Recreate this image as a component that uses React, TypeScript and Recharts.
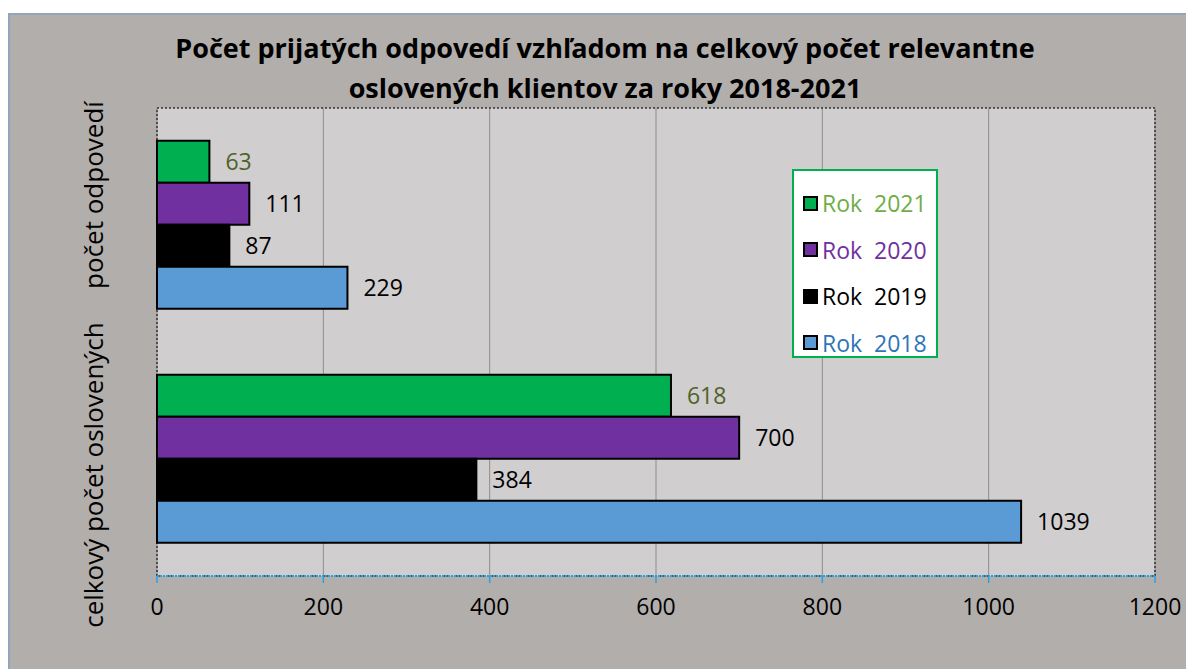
import React from 'react'
import {
  BarChart, Bar, XAxis, YAxis, CartesianGrid, Legend, LabelList, ReferenceArea,
} from 'recharts'

// ----- data -----
const categories = ['počet odpovedí', 'celkový počet oslovených']
const rok2021 = [63, 618]
const rok2020 = [111, 700]
const rok2019 = [87, 384]
const rok2018 = [229, 1039]
const xTicks = [0, 200, 400, 600, 800, 1000, 1200]

const series = [
  { key: 'r2021', name: 'Rok  2021', fill: '#00b050', text: '#70ad47', label: '#4f6228' },
  { key: 'r2020', name: 'Rok  2020', fill: '#7030a0', text: '#7030a0', label: '#000000' },
  { key: 'r2019', name: 'Rok  2019', fill: '#000000', text: '#000000', label: '#000000' },
  { key: 'r2018', name: 'Rok  2018', fill: '#5b9bd5', text: '#2e75b6', label: '#000000' },
]

const data = categories.map((name, i) => ({
  name,
  r2021: rok2021[i],
  r2020: rok2020[i],
  r2019: rok2019[i],
  r2018: rok2018[i],
}))

const FONT = '"Open Sans", Lato, sans-serif'

// category labels are rotated and nudged a bit like in Excel
const CategoryTick = (props: any) => {
  const { x, y, payload, index } = props
  const shift = index === 0 ? -30 : 16
  return (
    <text
      x={x - 56}
      y={y + shift}
      transform={`rotate(-90 ${x - 56} ${y + shift})`}
      textAnchor="middle"
      dominantBaseline="central"
      fontFamily={FONT}
      fontSize={26}
      fill="#000"
    >
      {payload.value}
    </text>
  )
}

const LegendBox = (props: any) => {
  const payload = props.payload || []
  // keep the order of the series (2021 on top)
  const items = series.filter(s => payload.some((p: any) => p.value === s.name))
  return (
    <div style={{
      width: 146, height: 189, boxSizing: 'border-box', background: '#fff',
      border: '2px solid #00b050', paddingTop: 9, fontFamily: FONT,
    }}>
      {items.map(s => (
        <div key={s.key} style={{ display: 'flex', alignItems: 'center', height: 46.5, paddingLeft: 9 }}>
          <span style={{
            display: 'inline-block', width: 11, height: 11, background: s.fill,
            border: '2px solid #000', marginRight: 4, flexShrink: 0,
          }} />
          <span style={{ fontSize: 23, color: s.text, whiteSpace: 'pre' }}>{s.name}</span>
        </div>
      ))}
    </div>
  )
}

export default function App() {
  return (
    <div style={{
      position: 'absolute', left: 8, top: 13, width: 1178, height: 656,
      boxSizing: 'border-box', background: '#b2aeac',
      borderTop: '2px solid #93a5bd', borderLeft: '2px solid #93a5bd',
    }}>
      <div style={{
        position: 'absolute', left: 95, top: 13, width: 1000, textAlign: 'center',
        fontFamily: FONT, fontWeight: 'bold', fontSize: 27, lineHeight: '40px', color: '#000',
      }}>
        Počet prijatých odpovedí vzhľadom na celkový počet relevantne<br />
        oslovených klientov za roky 2018-2021
      </div>
      <div style={{ position: 'absolute', left: -2, top: -2 }}>
        <BarChart
          width={1178}
          height={656}
          data={data}
          layout="vertical"
          barCategoryGap="14%"
          barGap={0}
          margin={{ top: 95, right: 31, bottom: 33, left: 0 }}
        >
          <CartesianGrid horizontal={false} stroke="#8c8c8c" fill="#d0cecf" fillOpacity={1} />
          <ReferenceArea x1={0} x2={1200} fill="none" stroke="#333" strokeDasharray="2 2" strokeWidth={1.5} />
          <XAxis
            type="number"
            domain={[0, 1200]}
            ticks={xTicks}
            interval={0}
            height={60}
            axisLine={{ stroke: '#29a3e0', strokeDasharray: '2 1', strokeWidth: 2 }}
            tickLine={{ stroke: '#29a3e0', strokeWidth: 1.5 }}
            tickSize={7}
            tickMargin={16}
            tick={{ fill: '#000', fontSize: 23, fontFamily: FONT }}
          />
          <YAxis
            type="category"
            dataKey="name"
            width={149}
            axisLine={false}
            tickLine={false}
            tick={<CategoryTick />}
          />
          <Legend
            layout="horizontal"
            verticalAlign="middle"
            align="center"
            content={<LegendBox />}
            wrapperStyle={{ position: 'absolute', left: 784, top: 156, width: 146, height: 189 }}
          />
          {series.map(s => (
            <Bar
              key={s.key}
              dataKey={s.key}
              name={s.name}
              fill={s.fill}
              stroke="#000"
              strokeWidth={2}
              isAnimationActive={false}
            >
              <LabelList
                dataKey={s.key}
                position="right"
                offset={16}
                fill={s.label}
                fontSize={23}
                fontFamily={FONT}
              />
            </Bar>
          ))}
        </BarChart>
      </div>
    </div>
  )
}
